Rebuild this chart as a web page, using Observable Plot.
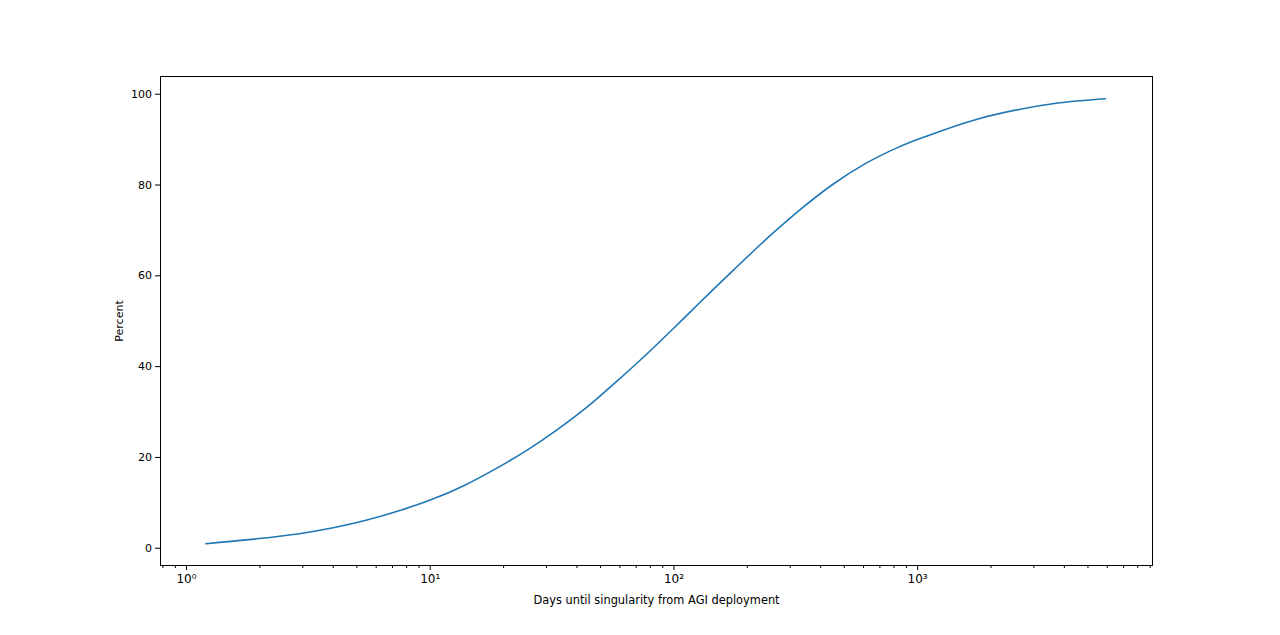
<!DOCTYPE html>
<html><head><meta charset="utf-8">
<script src="https://cdn.jsdelivr.net/npm/d3@7"></script>
<script src="https://cdn.jsdelivr.net/npm/@observablehq/plot@0.6"></script>
<style>body{margin:0;background:#fff} svg{display:block}</style>
</head><body><div id="chart"></div>
<script>
const days = [1.2, 1.8, 2.9, 4.0, 5.5, 7.5, 10, 14, 19, 25, 33, 45, 57, 80, 100, 126, 175, 250, 325, 445, 610, 840, 1094, 1755, 2643, 3700, 5900];
const percent = [1.0, 1.9, 3.2, 4.5, 6.2, 8.3, 10.6, 14.0, 17.8, 21.6, 26, 31.5, 36.3, 43.5, 48.5, 53.8, 61.2, 69.0, 74.3, 80.0, 84.7, 88.4, 90.8, 94.5, 96.7, 98.0, 99.0];
const xMajorTicks = [1, 10, 100, 1000];
const xMajorLabels = ["10\u2070", "10\u00b9", "10\u00b2", "10\u00b3"];
const xMinorTicks = [0.8, 0.9, 2, 3, 4, 5, 6, 7, 8, 9, 20, 30, 40, 50, 60, 70, 80, 90, 200, 300, 400, 500, 600, 700, 800, 900, 2000, 3000, 4000, 5000, 6000, 7000, 8000, 9000];
const yTicks = [0, 20, 40, 60, 80, 100];
const xLabel = "Days until singularity from AGI deployment";
const yLabel = "Percent";

const data = days.map((d, i) => ({days: d, percent: percent[i]}));

const chart = Plot.plot({
  width: 1280,
  height: 635,
  marginLeft: 160,
  marginRight: 128,
  marginTop: 76,
  marginBottom: 70,
  style: {fontFamily: "DejaVu Sans", fontSize: "11px", color: "black", background: "white"},
  x: {type: "log", domain: [0.782, 9200]},
  y: {domain: [-3.8, 103.9]},
  marks: [
    Plot.axisY(yTicks, {tickSize: 5, tickPadding: 3.5, stroke: "black", label: yLabel, labelAnchor: "center", labelArrow: "none", labelOffset: 45}),
    Plot.axisX(xMinorTicks, {tickSize: 3, stroke: "black", tickFormat: () => "", label: null}),
    Plot.axisX(xMajorTicks, {tickSize: 5, tickPadding: 3.5, stroke: "black", fontSize: 12, tickFormat: d => xMajorLabels[xMajorTicks.indexOf(d)], label: null}),
    Plot.axisX(xMajorTicks, {tickSize: 0, tickFormat: () => "", fontSize: 11.4, label: xLabel, labelAnchor: "center", labelArrow: "none", labelOffset: 38}),
    Plot.line(data, {x: "days", y: "percent", stroke: "#1f77b4", strokeWidth: 1.6, curve: "monotone-x"}),
    Plot.frame({stroke: "black", strokeWidth: 1})
  ]
});
document.getElementById("chart").appendChild(chart);
</script>
</body></html>
